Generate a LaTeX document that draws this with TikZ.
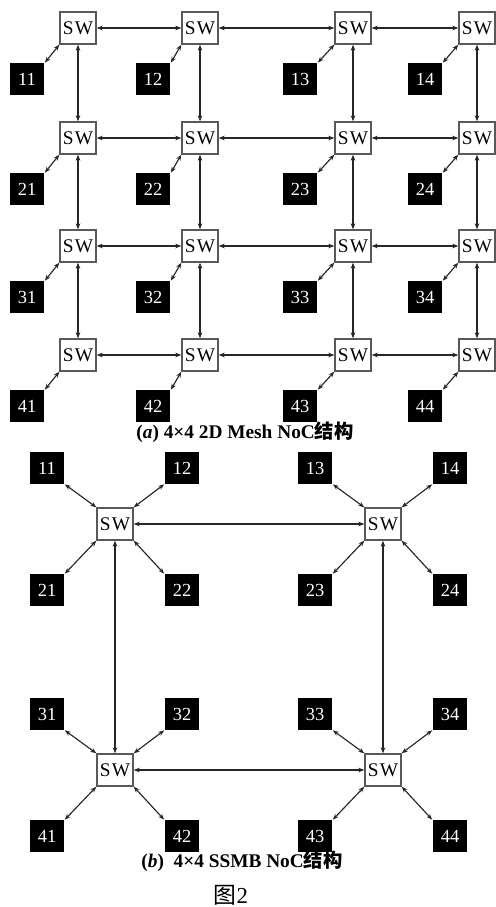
\documentclass[tikz,border=0pt]{standalone}
\usepackage{fontspec}
\setmainfont{Liberation Serif}
\newfontfamily\cjk{Noto Sans CJK SC}
\usetikzlibrary{arrows.meta}

\tikzset{
  swbox/.style={draw=black!65,line width=0.8pt,fill=white,minimum width=0.72cm,minimum height=0.64cm,inner sep=0pt,font=\fontsize{11}{11}\selectfont},
  pebox/.style={fill=black,text=white,minimum width=0.7cm,minimum height=0.64cm,inner sep=0pt,font=\fontsize{10.5}{10.5}\selectfont},
  link/.style={<->,black!85,line width=0.65pt}
}

\begin{document}
\begin{tikzpicture}[x=0.02cm,y=-0.02cm,>={Stealth[length=3.4pt,width=2.6pt]}]
\useasboundingbox (0,0) rectangle (496,907);
% (a) 2D mesh
\foreach \r/\y in {1/28,2/138,3/246,4/355}{
  \foreach \c/\x/\px in {1/78/27,2/200/153,3/353/300,4/477/425}{
    \node[swbox] (m\r\c) at (\x,\y) {S\kern0.8pt W};
    \node[pebox] (p\r\c) at (\px,\y+51) {\r\c};
    \draw[link] (p\r\c.north east) -- (m\r\c.south west);
  }
}
\foreach \r in {1,...,4}{
  \foreach \c/\d in {1/2,2/3,3/4}{
    \draw[link] (m\r\c) -- (m\r\d);
    \draw[link] (m\c\r) -- (m\d\r);
  }
}
\node[font=\bfseries\fontsize{11}{11}\selectfont] (capa) at (245,432) {(\textit{a}) 4×4 2D Mesh NoC{\cjk 结构}};
% (b) SSMB
\foreach \s/\x/\y/\ul/\ur/\ll/\lr in {1/115/524/11/12/21/22,2/383/524/13/14/23/24,3/115/770/31/32/41/42,4/383/770/33/34/43/44}{
  \node[swbox] (s\s) at (\x,\y) {S\kern0.8pt W};
  \node[pebox] (q\ul) at (\x-68,\y-56) {\ul};
  \node[pebox] (q\ur) at (\x+67,\y-56) {\ur};
  \node[pebox] (q\ll) at (\x-68,\y+66) {\ll};
  \node[pebox] (q\lr) at (\x+67,\y+66) {\lr};
  \draw[link] (q\ul.south east) -- (s\s.north west);
  \draw[link] (q\ur.south west) -- (s\s.north east);
  \draw[link] (q\ll.north east) -- (s\s.south west);
  \draw[link] (q\lr.north west) -- (s\s.south east);
}
\draw[link] (s1) -- (s2);
\draw[link] (s3) -- (s4);
\draw[link] (s1) -- (s3);
\draw[link] (s2) -- (s4);
\node[font=\bfseries\fontsize{11}{11}\selectfont] (capb) at (242,861) {(\textit{b})\ \ 4×4 SSMB NoC{\cjk 结构}};
\node[font=\fontsize{13}{13}\selectfont] (fig) at (231,895) {{\cjk 图}2};
\end{tikzpicture}
\end{document}
